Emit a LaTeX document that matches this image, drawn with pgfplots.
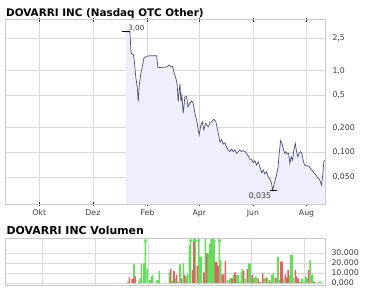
\documentclass[border=0pt]{standalone}
\usepackage{fontspec}
\setmainfont{DejaVu Sans}
\usepackage{pgfplots}
\usepackage{pgfplotstable}
\pgfplotsset{compat=1.18}
\definecolor{gridc}{RGB}{218,218,218}
\definecolor{framec}{RGB}{200,200,200}
\definecolor{linec}{RGB}{78,82,112}
\definecolor{fillc}{RGB}{238,238,253}
\definecolor{volg}{RGB}{104,218,92}
\definecolor{volr}{RGB}{220,100,100}
\definecolor{labc}{RGB}{60,60,60}

\pgfplotstableread{
d v
98.6 3.0
103.1 3.0
104.3 1.709
105.4 1.589
106.9 1.589
108.0 1.352
109.9 0.807
111.4 0.637
112.6 0.417
113.7 0.668
115.3 0.886
116.8 1.070
119.0 1.419
122.1 1.502
125.9 1.527
133.5 1.527
134.9 1.088
144.8 1.110
147.8 1.175
149.4 1.110
151.7 1.132
153.1 0.972
155.4 0.807
156.9 0.668
158.0 0.417
160.0 0.701
161.1 0.417
162.2 0.504
163.7 0.301
165.6 0.480
167.6 0.480
169.1 0.362
171.3 0.399
173.3 0.425
175.1 0.399
177.0 0.301
178.9 0.249
180.8 0.188
181.9 0.163
183.8 0.216
185.3 0.237
187.2 0.188
189.2 0.227
192.1 0.206
194.1 0.227
196.0 0.237
198.6 0.254
200.9 0.237
202.4 0.197
204.0 0.163
205.4 0.135
207.4 0.142
209.2 0.126
211.1 0.131
213.1 0.115
214.9 0.107
216.8 0.102
218.7 0.109
220.6 0.102
222.5 0.107
224.4 0.097
226.2 0.102
228.2 0.107
230.1 0.102
231.9 0.105
233.9 0.102
235.8 0.097
237.6 0.090
239.5 0.082
241.5 0.082
243.3 0.0746
245.2 0.0789
247.2 0.0699
249.0 0.0767
250.9 0.0666
252.9 0.0562
254.7 0.0607
256.6 0.0542
258.5 0.0578
260.4 0.0502
262.3 0.0467
264.2 0.0417
265.4 0.0345
266.9 0.0397
268.3 0.0458
269.9 0.0527
271.7 0.0666
272.9 0.0972
274.5 0.1388
276.0 0.1289
277.4 0.112
279.0 0.0972
280.5 0.1017
282.0 0.0953
283.5 0.0972
285.0 0.0733
286.5 0.0883
288.1 0.0805
289.6 0.1067
291.1 0.1289
292.7 0.1017
294.1 0.0883
295.6 0.0972
297.2 0.1017
298.7 0.0972
300.1 0.0805
301.7 0.0699
304.0 0.0680
306.3 0.0680
308.5 0.0637
311.5 0.0578
314.6 0.0527
317.2 0.048
319.1 0.0458
321.1 0.0397
322.2 0.0502
322.9 0.0607
323.7 0.0767
324.5 0.080
}\price

\pgfplotstableread{
d v
99.2 1300
106.2 18700
111.6 1300
113.2 4700
114.7 18700
117.8 19700
119.4 42500
121.7 14700
124.8 3000
126.4 6300
127.9 8000
132.6 2300
134.1 3000
135.7 12000
142.7 700
147.3 10700
150.4 2300
154.3 4700
157.4 1300
159.7 18700
163.6 19700
166.7 6300
168.2 8700
170.6 38000
172.1 42500
177.5 42500
181.4 42500
183.0 26300
184.5 26300
189.2 44000
192.3 29700
194.6 39700
196.2 42500
197.7 42500
199.3 42500
205.5 42500
207.0 23000
214.8 3000
217.1 4000
218.7 5300
221.8 8000
225.6 8000
227.6 8000
229.5 1300
231.1 11300
232.4 14000
235.7 4700
239.6 19700
241.2 19700
245.0 4700
246.6 5300
248.1 6300
252.0 1300
257.4 4700
261.3 5300
263.6 3000
266.7 8000
268.3 9700
272.2 5300
273.7 26300
275.3 3000
279.9 4700
286.9 8000
288.5 28000
290.0 28000
291.6 5300
299.3 1300
300.9 4000
302.4 4000
304.0 1300
306.3 6300
307.9 4700
311.0 23000
312.5 8000
314.1 8700
317.2 700
321.8 1700
323.4 1700
}\volgreen

\pgfplotstableread{
d v
100.8 5700
103.9 4000
105.4 4700
107.8 6700
148.9 14000
152.7 12000
155.8 8000
161.7 4700
165.1 8000
174.4 13000
176.0 42500
179.9 17300
187.6 10700
190.7 29700
200.8 21300
202.4 21300
203.9 17300
208.6 8700
210.1 8700
212.5 22000
220.2 4700
223.7 10700
233.8 12000
238.0 14000
243.5 8000
250.5 4700
253.6 700
255.9 9700
259.8 5300
265.2 1300
270.6 5300
276.8 21300
278.4 21300
282.3 8700
283.8 5300
285.4 13000
293.9 13000
295.4 6700
297.0 4700
309.4 13000
315.6 1300
}\volred

\pgfplotstableread{
d v
119.4 42500
172.1 42500
176.0 42500
177.5 42500
181.4 42500
196.2 42500
197.7 42500
199.3 42500
205.5 42500
}\volcap

\begin{document}
\begin{tikzpicture}
\path[use as bounding box] (0pt,0pt) rectangle (375pt,-290pt);
\node[anchor=base west, inner sep=0, font=\bfseries\fontsize{10.4}{12}\selectfont] at (6pt,-16.7pt) {DOVARRI INC (Nasdaq OTC Other)};
\node[anchor=base west, inner sep=0, font=\bfseries\fontsize{10.9}{12}\selectfont] at (6.5pt,-234.7pt) {DOVARRI INC Volumen};

\begin{axis}[
  at={(5pt,-204pt)}, anchor=south west,
  scale only axis, width=320pt, height=184.5pt,
  xmin=-39, xmax=325,
  ymode=log, log origin y=infty,
  ymin=0.02325, ymax=4.24,
  axis line style={draw=framec, line width=0.6pt},
  grid=major, major grid style={draw=gridc, line width=0.6pt},
  xtick={0,61,123,182,243,304},
  xticklabels={Okt,Dez,Feb,Apr,Jun,Aug},
  ytick={0.05,0.1,0.2,0.5,1,2.5},
  yticklabels={{0,050},{0,100},{0,200},{0,5},{1,0},{2,5}},
  yticklabel pos=right,
  ytick style={draw=none},
  xtick style={draw=black!80, line width=0.6pt},
  tick align=center, major tick length=4pt,
  x tick label style={font=\fontsize{7.8}{9}\selectfont, text=labc},
  y tick label style={font=\fontsize{7.8}{9}\selectfont, text=labc, anchor=west, xshift=2pt},
  clip=false,
]
\addplot[fill=fillc, draw=none] table {\price} \closedcycle;
\addplot[linec, line width=0.7pt] table {\price};
\addplot[black, line width=0.9pt] coordinates {(94.6,3.0) (103.1,3.0)};
\addplot[black, line width=0.9pt] coordinates {(261.9,0.0345) (270.3,0.0345)};
\node[anchor=south west, inner sep=0.5pt, font=\fontsize{7.2}{8}\selectfont, text=labc] at (axis cs:100.5,3.0) {3,00};
\node[anchor=north, inner sep=0pt, font=\fontsize{7.8}{9}\selectfont, text=labc] at (axis cs:251,0.0318) {0,035};
\end{axis}

\begin{axis}[
  at={(5pt,-285pt)}, anchor=south west,
  scale only axis, width=320pt, height=47pt,
  xmin=-43.9, xmax=328.4,
  ymin=-2000, ymax=45000,
  scaled y ticks=false,
  axis line style={draw=framec, line width=0.6pt},
  grid=major, major grid style={draw=gridc, line width=0.6pt},
  xtick={0,61,123,182,243,304},
  xticklabels={},
  ytick={0,10000,20000,30000},
  yticklabels={{0,000},{10.000},{20.000},{30.000}},
  yticklabel pos=right,
  tick style={draw=none},
  y tick label style={font=\fontsize{7.8}{9}\selectfont, text=labc, anchor=west, xshift=3pt},
  clip=false,
]
\addplot[ybar, bar width=1.8, bar shift=0, fill=volg, draw=none] table {\volgreen};
\addplot[ybar, bar width=1.8, bar shift=0, fill=volr, draw=none] table {\volred};
\addplot[only marks, mark=triangle*, mark size=1.7pt, color=volg] table {\volcap};
\end{axis}
\end{tikzpicture}
\end{document}
